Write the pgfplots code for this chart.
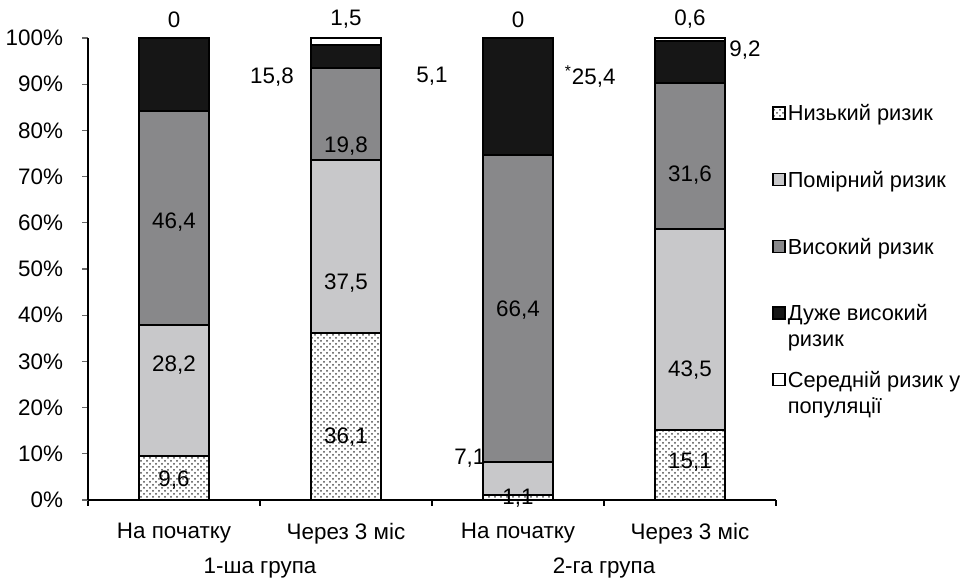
\documentclass[border=0pt]{standalone}
\usepackage{fontspec}
\setmainfont{Liberation Sans}
\usepackage{pgfplots}
\pgfplotsset{compat=1.18}
\usetikzlibrary{patterns}

\definecolor{modgray}{RGB}{200,200,202}
\definecolor{highgray}{RGB}{136,136,138}
\definecolor{vhigh}{RGB}{22,22,22}

% legend entries: fixed row height, a second line hangs below without taking room
\newcommand{\entry}[1]{\strut\smash{\parbox[t]{90pt}{#1}}}

\begin{document}
\begin{tikzpicture}[font=\fontsize{11.2}{13}\selectfont]
\begin{axis}[
    scale only axis,
    width=344pt, height=231pt,
    at={(44pt,39pt)}, anchor=south west,
    ybar stacked,
    bar width=35pt,
    xmin=-0.5, xmax=3.5,
    ymin=0, ymax=100,
    axis x line*=bottom,
    axis y line*=left,
    axis line style={black, line width=0.7pt},
    xtick={0,1,2,3},
    xticklabels={На початку, Через 3 міс, На початку, Через 3 міс},
    minor xtick={-0.5,0.5,1.5,2.5,3.5},
    major x tick style={draw=none},
    minor x tick style={black, line width=0.6pt},
    ytick={0,10,...,100},
    yticklabels={0\%,10\%,20\%,30\%,40\%,50\%,60\%,70\%,80\%,90\%,100\%},
    y tick style={black!60, line width=0.6pt},
    tick align=outside,
    major tick length=3pt,
    minor tick length=3pt,
    yticklabel style={xshift=-6pt},
    xticklabel style={yshift=-5pt},
    clip=false,
    legend style={draw=none, fill=none, at={(1.0,0.865)}, anchor=north west,
        xshift=-2pt,
        row sep=20.9pt, inner sep=0pt,
        cells={anchor=base west},
        nodes={inner sep=1pt, font=\fontsize{10.9}{12.8}\selectfont}},
    legend image code/.code={\draw[#1, line width=0.7pt] (0pt,0.9pt) rectangle (6pt,6.9pt);},
    every axis plot/.append style={draw=black, line width=1pt},
]
\addplot[fill=white, postaction={pattern=crosshatch dots, pattern color=black!70}]
    coordinates {(0,9.6) (1,36.1) (2,1.1) (3,15.1)};
\addlegendentry{\entry{Низький ризик}}
\addplot[fill=modgray] coordinates {(0,28.2) (1,37.5) (2,7.1) (3,43.5)};
\addlegendentry{\entry{Помірний ризик}}
\addplot[fill=highgray] coordinates {(0,46.4) (1,19.8) (2,66.4) (3,31.6)};
\addlegendentry{\entry{Високий ризик}}
\addplot[fill=vhigh] coordinates {(0,15.8) (1,5.1) (2,25.4) (3,9.2)};
\addlegendentry{\entry{Дуже високий\\ризик}}
\addplot[fill=white] coordinates {(0,0) (1,1.5) (2,0) (3,0.6)};
\addlegendentry{\entry{Середній ризик у\\популяції}}

% label anchors (text placed after the axis so it sits above the bars)
\coordinate (a1) at (axis cs:0,104);
\coordinate (a2) at (axis cs:0.57,91.5);
\coordinate (a3) at (axis cs:0,60.2);
\coordinate (a4) at (axis cs:0,29.2);
\coordinate (a5) at (axis cs:0,4.3);
\coordinate (b1) at (axis cs:1,104);
\coordinate (b2) at (axis cs:1.5,91.8);
\coordinate (b3) at (axis cs:1,76.5);
\coordinate (b4) at (axis cs:1,47);
\coordinate (b5) at (axis cs:1,13.6);
\coordinate (c1) at (axis cs:2,104);
\coordinate (c2) at (axis cs:2.42,91.6);
\coordinate (c3) at (axis cs:2,41.1);
\coordinate (c4) at (axis cs:1.72,9.1);
\coordinate (c5) at (axis cs:2,0.4);
\coordinate (d1) at (axis cs:3,104);
\coordinate (d2) at (axis cs:3.32,97.4);
\coordinate (d3) at (axis cs:3,70.3);
\coordinate (d4) at (axis cs:3,28.1);
\coordinate (d5) at (axis cs:3,8.2);
\coordinate (g1) at (axis cs:0.5,0);
\coordinate (g2) at (axis cs:2.5,0);
\end{axis}

\node at (a1) {0};
\node at (a2) {15,8};
\node at (a3) {46,4};
\node at (a4) {28,2};
\node at (a5) {9,6};
\node at (b1) {1,5};
\node at (b2) {5,1};
\node at (b3) {19,8};
\node at (b4) {37,5};
\node at (b5) {36,1};
\node at (c1) {0};
\node at (c2) {\textsuperscript{*}25,4};
\node at (c3) {66,4};
\node at (c4) {7,1};
\node at (c5) {1,1};
\node at (d1) {0,6};
\node at (d2) {9,2};
\node at (d3) {31,6};
\node at (d4) {43,5};
\node at (d5) {15,1};
\node at (g1) [yshift=-34pt] {1-ша група};
\node at (g2) [yshift=-34pt] {2-га група};

\pgfresetboundingbox
\useasboundingbox (0,0) rectangle (480pt,289pt);
\end{tikzpicture}
\end{document}
